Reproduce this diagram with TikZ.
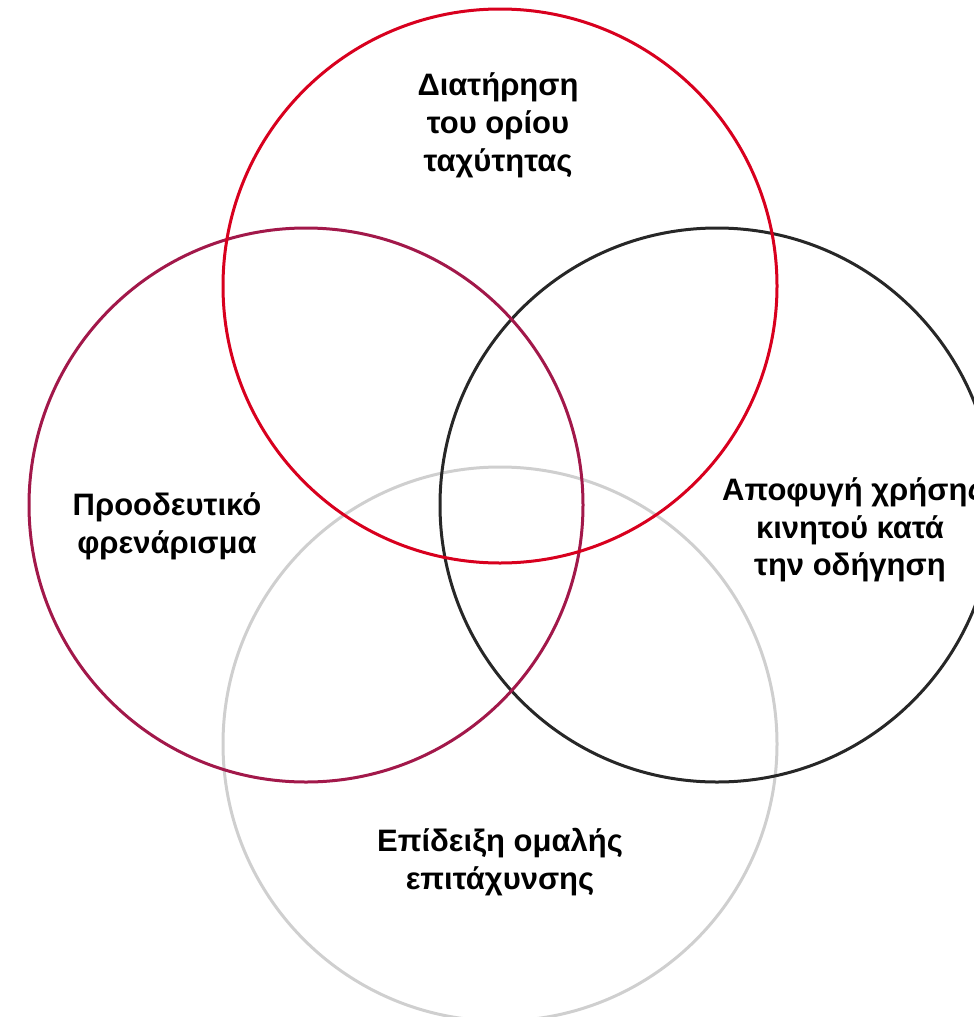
\documentclass[tikz,border=0pt]{standalone}
\usepackage{fontspec}
\setmainfont{Liberation Sans}
\definecolor{cred}{HTML}{D8001E}
\definecolor{ccrim}{HTML}{A2184A}
\definecolor{cdark}{HTML}{272727}
\definecolor{cgrey}{HTML}{CFCFCF}
\begin{document}
\begin{tikzpicture}[x=1pt,y=-1pt,
  ring/.style={draw, line width=3pt, minimum size=554pt, inner sep=0pt, circle},
  lbl/.style={font=\fontsize{31}{38}\selectfont\bfseries, align=center, text=black, inner sep=0pt}]
\useasboundingbox (0,0) rectangle (974,1017);
\node[ring, cgrey] (bot) at (500,744) {};
\node[ring, cdark] (right) at (717,505) {};
\node[ring, ccrim] (left) at (306,505) {};
\node[ring, cred] (top) at (500,286) {};
\node[lbl] (t1) at (498,125) {Διατήρηση\\του ορίου\\ταχύτητας};
\node[lbl] (t2) at (167,526) {Προοδευτικό\\φρενάρισμα};
\node[lbl, anchor=west] (t3) at (722,492) {Αποφυγή χρήσης};
\node[lbl] (t4) at (850,530) {κινητού κατά};
\node[lbl] (t5) at (850,567) {την οδήγηση};
\node[lbl] (t6) at (500,862) {Επίδειξη ομαλής\\επιτάχυνσης};
\end{tikzpicture}
\end{document}
